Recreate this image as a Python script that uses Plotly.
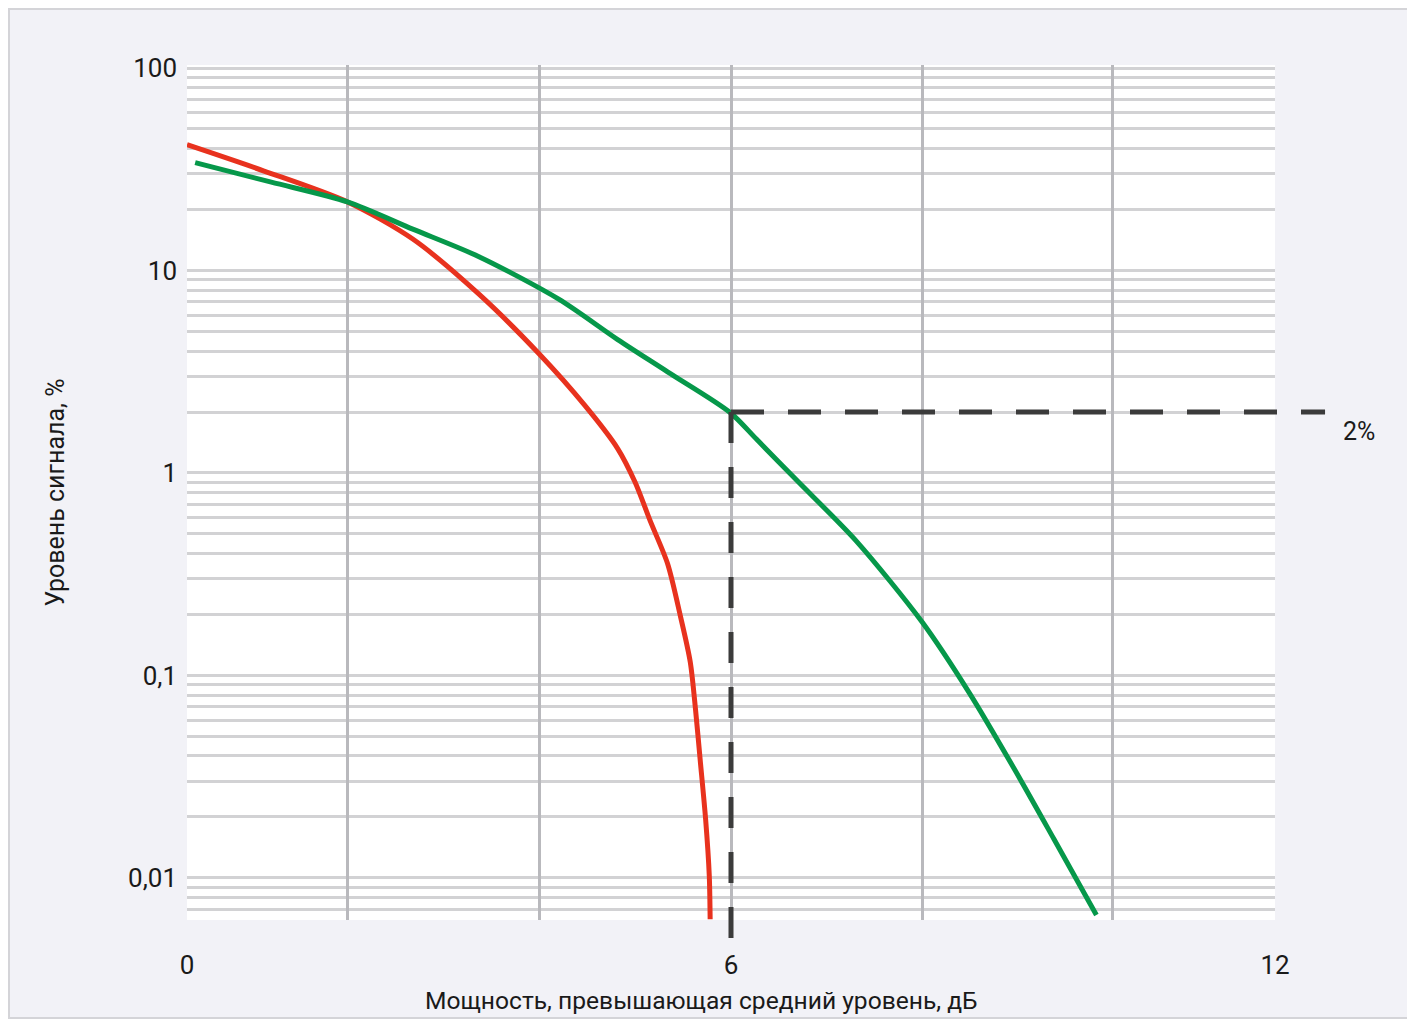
import math
import plotly.graph_objects as go

# ---- data ----
red_x = [0.00, 0.85, 1.77, 2.49, 3.22, 3.88, 4.39, 4.75, 4.94, 5.11, 5.30, 5.44, 5.55, 5.61, 5.66, 5.72, 5.76, 5.77]
red_y = [41.8, 31.0, 21.8, 14.3, 7.64, 3.89, 2.15, 1.32, 0.904, 0.578, 0.357, 0.198, 0.117, 0.0669, 0.0383, 0.0195, 0.01035, 0.00625]

green_x = [0.09, 0.93, 1.77, 2.49, 3.22, 4.10, 4.75, 5.30, 5.99, 6.28, 6.72, 7.38, 8.11, 8.63, 9.13, 9.56, 10.03]
green_y = [34.1, 27.3, 21.8, 16.0, 11.7, 7.22, 4.56, 3.16, 1.99, 1.47, 0.925, 0.462, 0.183, 0.0818, 0.0342, 0.0156, 0.00655]

x_tick_vals = [0, 6, 12]
x_tick_text = ["0", "6", "12"]
x_grid_vals = [1.77, 3.89, 6.01, 8.11, 10.21]

y_decades = [0.001, 0.01, 0.1, 1, 10, 100]
y_decade_text = ["", "0,01", "0,1", "1", "10", "100"]
y_digits = [1, 2, 3, 4, 5, 6, 7, 8, 9]

marker_x = 6      # dB
marker_y = 2      # %
marker_label = "2%"

x_title = "Мощность, превышающая средний уровень, дБ"
y_title = "Уровень сигнала, %"

X_RANGE = [0, 12]
Y_RANGE = [-2.208, 2.015]  # log10 units

# ---- layout geometry ----
W, H = 1401, 1011
ML, MR, MT, MB = 179, 134, 57, 99
PW = W - ML - MR
PH = H - MT - MB

# ---- ticks for log grid ----
lo, hi = 10 ** Y_RANGE[0], 10 ** Y_RANGE[1]
y_tickvals = []
y_ticktext = []
for dec, lab in zip(y_decades, y_decade_text):
    for d in y_digits:
        v = dec * d
        if lo <= v <= hi:
            y_tickvals.append(v)
            y_ticktext.append(lab if d == 1 else "")

FONT = "Roboto, 'Open Sans', sans-serif"

fig = go.Figure()
fig.add_trace(go.Scatter(x=red_x, y=red_y, mode="lines",
                         line=dict(color="#e8321e", width=5, shape="spline", smoothing=0.8),
                         hoverinfo="skip", showlegend=False))
fig.add_trace(go.Scatter(x=green_x, y=green_y, mode="lines",
                         line=dict(color="#06984a", width=5, shape="spline", smoothing=0.8),
                         hoverinfo="skip", showlegend=False))

# dashed marker lines (extend slightly outside the plot like the reference)
x_frac = (marker_x - X_RANGE[0]) / (X_RANGE[1] - X_RANGE[0])
y_frac = (math.log10(marker_y) - Y_RANGE[0]) / (Y_RANGE[1] - Y_RANGE[0])
fig.add_shape(type="line", xref="paper", yref="y", x0=x_frac, x1=1.046,
              y0=marker_y, y1=marker_y,
              line=dict(color="#3b3b3b", width=5, dash="33px,24px"), layer="above")
fig.add_shape(type="line", xref="x", yref="paper", x0=marker_x, x1=marker_x,
              y0=y_frac, y1=-0.024,
              line=dict(color="#3b3b3b", width=5, dash="31px,24px"), layer="above")

fig.add_annotation(text=marker_label, xref="paper", yref="y",
                   x=1.094, y=math.log10(marker_y), yshift=-19,
                   showarrow=False, font=dict(family=FONT, size=25, color="#1a1a1a"))

# x-axis title, placed as in the reference (slightly left of centre)
fig.add_annotation(text=x_title, xref="paper", yref="paper", x=0.4725, y=-0.0936,
                   xanchor="center", yanchor="middle", showarrow=False,
                   font=dict(family=FONT, size=24.6, color="#1a1a1a"))

# outer border around the figure
fig.add_shape(type="rect", xref="paper", yref="paper",
              x0=-(ML - 1) / PW, x1=1 + (MR - 1) / PW,
              y0=-(MB - 1) / PH, y1=1 + (MT - 1) / PH,
              line=dict(color="#d4d4d8", width=2), fillcolor="rgba(0,0,0,0)", layer="below")

fig.update_layout(
    width=W, height=H,
    margin=dict(l=ML, r=MR, t=MT, b=MB),
    paper_bgcolor="#f2f2f7",
    plot_bgcolor="#ffffff",
    font=dict(family=FONT, size=26, color="#1a1a1a"),
    showlegend=False,
    xaxis=dict(range=X_RANGE, tickvals=x_tick_vals, ticktext=x_tick_text,
               showgrid=False, zeroline=False, showline=False, ticks="",
               ticklabelstandoff=27),
    xaxis2=dict(range=X_RANGE, overlaying="x", side="bottom", tickvals=x_grid_vals,
                showticklabels=False, showgrid=True, gridcolor="#b9b9bd", gridwidth=3,
                zeroline=False, showline=False, ticks=""),
    yaxis=dict(type="log", range=Y_RANGE, tickvals=y_tickvals, ticktext=y_ticktext,
               showgrid=True, gridcolor="#d2d2d4", gridwidth=3,
               zeroline=False, showline=False, ticks="", ticklabelstandoff=9,
               title=dict(text=y_title, font=dict(size=25), standoff=56)),
)
# invisible trace to anchor xaxis2
fig.add_trace(go.Scatter(x=[X_RANGE[0]], y=[1], xaxis="x2", yaxis="y", mode="markers",
                         marker=dict(opacity=0), hoverinfo="skip", showlegend=False))

fig.write_html("out.html")
